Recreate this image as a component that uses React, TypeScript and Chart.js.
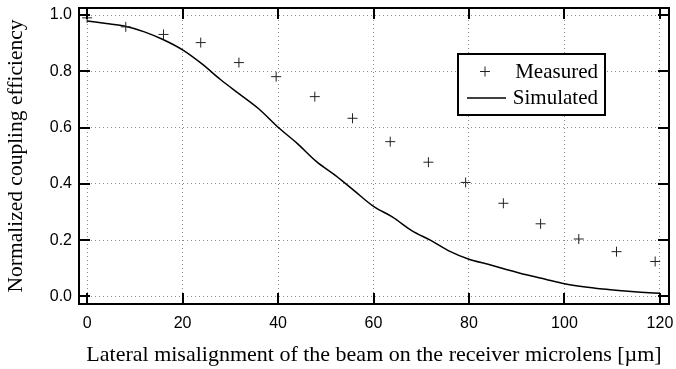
import React, { useEffect, useRef } from "react";
import { Chart, registerables } from "chart.js";

Chart.register(...registerables);

// Lateral offset of the measured points [µm]
const measuredX = [0, 8.1, 16.0, 23.8, 31.8, 39.6, 47.7, 55.6, 63.5, 71.5, 79.3, 87.2, 95.0, 103.0, 110.9, 119.0];
// Measured normalized coupling efficiency
const measuredY = [0.99, 0.958, 0.931, 0.902, 0.831, 0.781, 0.71, 0.633, 0.55, 0.477, 0.405, 0.331, 0.258, 0.204, 0.159, 0.124];

// Simulated curve samples
const simulatedX = [0, 4, 8, 12, 16, 20, 24, 28, 32, 36, 40, 44, 48, 52, 56, 60, 64, 68, 72, 76, 80, 84, 88, 92, 96, 100, 104, 108, 112, 116, 120];
const simulatedY = [0.979, 0.970, 0.960, 0.940, 0.912, 0.876, 0.827, 0.770, 0.718, 0.666, 0.601, 0.544, 0.480, 0.430, 0.375, 0.320, 0.282, 0.234, 0.199, 0.160, 0.132, 0.114, 0.095, 0.077, 0.061, 0.045, 0.034, 0.026, 0.020, 0.015, 0.011];

const xTicks = [0, 20, 40, 60, 80, 100, 120];
const yTicks = [0, 0.2, 0.4, 0.6, 0.8, 1.0];

const xTitle = "Lateral misalignment of the beam on the receiver microlens [µm]";
const yTitle = "Normalized coupling efficiency";
const legendLabels = ["Measured", "Simulated"];

const serif = "'Liberation Serif', 'Times New Roman', serif";
const sans = "'Liberation Sans', Arial, sans-serif";

// Box frame, inward tick marks and the boxed legend
const framePlugin = {
  id: "frameAndLegend",
  afterDraw(chart: any) {
    const { ctx, chartArea } = chart;
    const { left, right, top, bottom } = chartArea;
    const xs = chart.scales.x;
    const ys = chart.scales.y;
    const tickLen = 11;
    ctx.save();
    ctx.strokeStyle = "#000";
    ctx.lineWidth = 2;
    ctx.strokeRect(left, top, right - left, bottom - top);
    ctx.beginPath();
    xTicks.forEach((v) => {
      const px = Math.round(xs.getPixelForValue(v));
      ctx.moveTo(px, bottom);
      ctx.lineTo(px, bottom - tickLen);
      ctx.moveTo(px, top);
      ctx.lineTo(px, top + tickLen);
    });
    yTicks.forEach((v) => {
      const py = Math.round(ys.getPixelForValue(v));
      ctx.moveTo(left, py);
      ctx.lineTo(left + tickLen, py);
      ctx.moveTo(right, py);
      ctx.lineTo(right - tickLen, py);
    });
    ctx.stroke();

    // legend
    const bx = right - 64;
    const by = top + 46;
    const bw = 147;
    const bh = 61;
    ctx.fillStyle = "#fff";
    ctx.fillRect(bx - bw, by, bw, bh);
    ctx.lineWidth = 2;
    ctx.strokeRect(bx - bw, by, bw, bh);

    ctx.fillStyle = "#000";
    ctx.font = `21px ${serif}`;
    ctx.textAlign = "right";
    ctx.textBaseline = "alphabetic";
    ctx.fillText(legendLabels[0], bx - 7, by + 24);
    ctx.fillText(legendLabels[1], bx - 7, by + 50);

    // marker sample
    const mx = bx - 120;
    const my = by + 17.5;
    ctx.strokeStyle = "#222";
    ctx.lineWidth = 1;
    ctx.beginPath();
    ctx.moveTo(mx - 5, my);
    ctx.lineTo(mx + 5, my);
    ctx.moveTo(mx, my - 5);
    ctx.lineTo(mx, my + 5);
    ctx.stroke();

    // line sample
    ctx.strokeStyle = "#000";
    ctx.lineWidth = 1.5;
    ctx.beginPath();
    ctx.moveTo(bx - 138, by + 44);
    ctx.lineTo(bx - 99, by + 44);
    ctx.stroke();
    ctx.restore();
  },
};

export default function App() {
  const canvasRef = useRef<HTMLCanvasElement | null>(null);

  useEffect(() => {
    if (!canvasRef.current) return;
    const chart = new Chart(canvasRef.current, {
      type: "scatter",
      data: {
        datasets: [
          {
            label: legendLabels[0],
            data: measuredX.map((x, i) => ({ x, y: measuredY[i] })),
            showLine: false,
            pointStyle: "cross",
            pointRadius: 5,
            pointBorderWidth: 1,
            borderColor: "#222",
            backgroundColor: "#222",
          },
          {
            label: legendLabels[1],
            data: simulatedX.map((x, i) => ({ x, y: simulatedY[i] })),
            showLine: true,
            pointRadius: 0,
            borderColor: "#000",
            borderWidth: 1.5,
            cubicInterpolationMode: "monotone",
          },
        ],
      },
      options: {
        responsive: false,
        animation: false,
        devicePixelRatio: 1,
        layout: { padding: { top: 8, right: 7, left: 0, bottom: 0 } },
        plugins: {
          legend: { display: false },
          tooltip: { enabled: false },
        },
        scales: {
          x: {
            type: "linear",
            min: -1.7,
            max: 121.9,
            afterFit: (s: any) => {
              s.height = 65;
              s.paddingLeft = 0;
              s.paddingRight = 0;
            },
            afterBuildTicks: (s: any) => {
              s.ticks = xTicks.map((value) => ({ value }));
            },
            grid: { color: "#8a8a8a", lineWidth: 1, drawTicks: false },
            border: { display: false, dash: [1, 3] },
            ticks: {
              color: "#000",
              font: { family: sans, size: 16 },
              padding: 10,
              maxRotation: 0,
              callback: (v: any) => String(v),
            },
            title: {
              display: true,
              text: xTitle,
              color: "#000",
              font: { family: serif, size: 22 },
              padding: { top: 0, bottom: 1 },
            },
          },
          y: {
            type: "linear",
            min: -0.027,
            max: 1.025,
            afterFit: (s: any) => {
              s.width = 79;
              s.paddingTop = 0;
              s.paddingBottom = 0;
            },
            afterBuildTicks: (s: any) => {
              s.ticks = yTicks.map((value) => ({ value }));
            },
            grid: { color: "#8a8a8a", lineWidth: 1, drawTicks: false },
            border: { display: false, dash: [1, 3] },
            ticks: {
              color: "#000",
              font: { family: sans, size: 16 },
              padding: 7,
              callback: (v: any) => Number(v).toFixed(1),
            },
            title: {
              display: true,
              text: yTitle,
              color: "#000",
              font: { family: serif, size: 21.5 },
              padding: { top: 3, bottom: 0 },
            },
          },
        },
      },
      plugins: [framePlugin],
    });
    return () => chart.destroy();
  }, []);

  return (
    <div style={{ position: "absolute", left: 0, top: 0, width: 676, height: 369, background: "#fff" }}>
      <canvas ref={canvasRef} width={676} height={369} style={{ display: "block" }} />
    </div>
  );
}
